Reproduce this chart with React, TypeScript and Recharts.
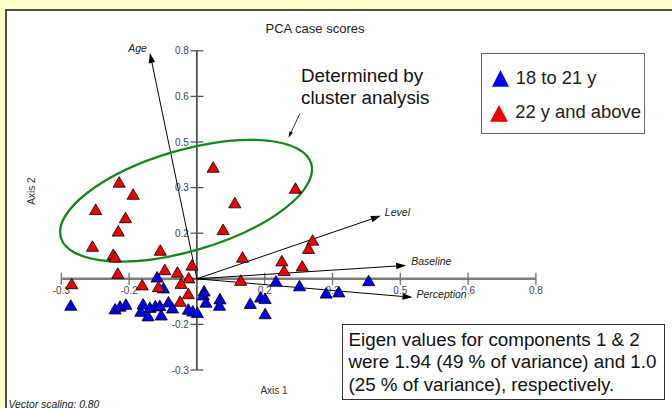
import React from 'react';
import { ScatterChart, Scatter, XAxis, YAxis, ZAxis, ReferenceLine, ReferenceDot } from 'recharts';

// case scores on axis 1 / axis 2
const youngerScores: [number, number][] = [
  [-0.279, -0.092], [-0.181, -0.104], [-0.170, -0.095], [-0.157, -0.089], [-0.124, -0.112],
  [-0.119, -0.088], [-0.108, -0.127], [-0.104, -0.099], [-0.092, -0.094], [-0.082, -0.093],
  [-0.079, -0.124], [-0.088, 0.001], [-0.074, -0.035], [-0.063, -0.081], [-0.054, -0.101],
  [-0.019, -0.105], [-0.009, -0.111], [0.001, -0.116], [0.016, -0.045], [0.014, -0.058],
  [0.020, -0.082], [0.051, -0.071], [0.050, -0.092], [0.118, -0.086], [0.141, -0.065],
  [0.151, -0.070], [0.151, -0.120], [0.175, -0.013], [0.227, -0.028], [0.286, -0.052],
  [0.314, -0.048], [0.380, -0.011],
];

const olderScores: [number, number][] = [
  [0.036, 0.362], [0.218, 0.293], [-0.172, 0.313], [-0.141, 0.273], [0.084, 0.245],
  [-0.224, 0.223], [-0.158, 0.196], [-0.174, 0.152], [0.058, 0.157], [0.256, 0.122],
  [0.247, 0.095], [-0.231, 0.102], [-0.185, 0.075], [-0.181, 0.067], [-0.081, 0.089],
  [0.101, 0.066], [0.188, 0.054], [0.233, 0.037], [0.193, 0.022], [-0.011, 0.040],
  [-0.071, 0.025], [-0.043, 0.017], [-0.175, 0.013], [-0.018, -0.002], [0.097, -0.010],
  [-0.277, -0.021], [-0.121, -0.025], [-0.085, -0.031], [-0.035, -0.020], [-0.019, -0.054],
  [-0.037, -0.079],
];

const vectorNames = ['Age', 'Level', 'Baseline', 'Perception'];
const vectorTips: [number, number][] = [[-0.104, 0.743], [0.407, 0.207], [0.463, 0.044], [0.477, -0.061]];

const axisTicks = [-0.3, -0.15, 0, 0.15, 0.3, 0.45, 0.6, 0.75];
const xTickLabels = ['-0.3', '-0.2', '', '0.2', '0.3', '0.5', '0.6', '0.8'];
const yTickLabels = ['-0.3', '-0.2', '', '0.2', '0.3', '0.5', '0.6', '0.8'];

const clusterCenter = { x: -0.024, y: 0.257 };
const calloutFrom = { x: 0.228, y: 0.544 };
const calloutTo = { x: 0.203, y: 0.465 };

const FONT = '"Liberation Sans", Arial, Helvetica, sans-serif';

const toPoints = (rows: [number, number][]) => rows.map(([x, y]) => ({ x, y }));

// label placement next to each arrow tip (px)
const vectorLabelStyle: Record<string, { dx: number; dy: number; anchor: string; bg?: boolean }> = {
  Age: { dx: -3, dy: -1, anchor: 'end' },
  Level: { dx: 4, dy: 0, anchor: 'start' },
  Baseline: { dx: 5, dy: 0, anchor: 'start' },
  Perception: { dx: 4, dy: 0.5, anchor: 'start', bg: true },
};

function arrowShape(name: string, head = 10, halfW = 3.3, width = 1) {
  return (p: any) => {
    const { x1, y1, x2, y2 } = p;
    const ang = Math.atan2(y2 - y1, x2 - x1);
    const bx = x2 - head * Math.cos(ang);
    const by = y2 - head * Math.sin(ang);
    const nx = -Math.sin(ang) * halfW;
    const ny = Math.cos(ang) * halfW;
    const ls = vectorLabelStyle[name];
    return (
      <g>
        <line x1={x1} y1={y1} x2={bx} y2={by} stroke="#000" strokeWidth={width} />
        <polygon points={`${x2},${y2} ${bx + nx},${by + ny} ${bx - nx},${by - ny}`} fill="#000" />
        {ls && ls.bg && <rect x={x2 + ls.dx - 1} y={y2 - 7} width={52} height={10} fill="#fff" />}
        {ls && (
          <text x={x2 + ls.dx} y={y2 + ls.dy} textAnchor={ls.anchor as any} fontSize={10.5}
            fontStyle="italic" fontFamily={FONT} fill="#222">{name}</text>
        )}
      </g>
    );
  };
}

const xTickShape = (label: string) => (p: any) => {
  const mid = (p.y1 + p.y2) / 2;
  return (
    <g>
      <line x1={p.x1} y1={p.y1} x2={p.x2} y2={p.y2} stroke="#6e6e6e" strokeWidth={1.3} />
      <text x={p.x1} y={mid + 15.5} textAnchor="middle" fontSize={10} fontFamily={FONT} fill="#444">{label}</text>
    </g>
  );
};

const yTickShape = (label: string) => (p: any) => {
  const left = Math.min(p.x1, p.x2);
  return (
    <g>
      <line x1={p.x1} y1={p.y1} x2={p.x2} y2={p.y2} stroke="#555" strokeWidth={1.3} />
      <text x={left - 1.5} y={p.y1 + 3.5} textAnchor="end" fontSize={10} fontFamily={FONT} fill="#444">{label}</text>
    </g>
  );
};

const clusterEllipse = (p: any) => (
  <ellipse cx={p.cx} cy={p.cy} rx={130.5} ry={50.3} fill="none" stroke="#14861a" strokeWidth={2.3}
    transform={`rotate(-16.5 ${p.cx} ${p.cy})`} />
);

const tri = (color: string, w: number, h: number) => (
  <svg width={w} height={h} style={{ display: 'block' }}>
    <polygon points={`${w / 2},0 ${w},${h} 0,${h}`} fill={color} />
  </svg>
);

export default function App() {
  const younger = toPoints(youngerScores);
  const older = toPoints(olderScores);

  return (
    <div style={{ position: 'absolute', left: 0, top: 0, width: 672, height: 408, overflow: 'hidden',
      background: '#ffffcc', fontFamily: FONT }}>
      <div style={{ position: 'absolute', left: 5, top: 9, width: 720, height: 440,
        border: '2px solid #4f4f44', background: '#fff' }} />

      <div style={{ position: 'absolute', left: 215, top: 22, width: 200, textAlign: 'center',
        fontSize: 13, lineHeight: 1, color: '#222' }}>PCA case scores</div>

      <div style={{ position: 'absolute', left: 0, top: 0 }}>
        <ScatterChart width={672} height={408} margin={{ top: 50.8, right: 136.1, bottom: 38, left: 61.3 }}>
          <XAxis type="number" dataKey="x" domain={[-0.3, 0.75]} allowDataOverflow hide />
          <YAxis type="number" dataKey="y" domain={[-0.3, 0.75]} allowDataOverflow hide />
          <ZAxis type="number" range={[40, 40]} />

          <ReferenceDot x={clusterCenter.x} y={clusterCenter.y} shape={clusterEllipse} />

          <ReferenceLine segment={[{ x: -0.3, y: 0 }, { x: 0.75, y: 0 }]} stroke="#7d7d7d" strokeWidth={2.4} />
          <ReferenceLine segment={[{ x: 0, y: -0.3 }, { x: 0, y: 0.75 }]} stroke="#111" strokeWidth={1.3} />

          {axisTicks.map((t, i) => (
            <ReferenceLine key={`xt${i}`} segment={[{ x: t, y: -0.0197 }, { x: t, y: 0.0197 }]}
              shape={xTickShape(xTickLabels[i])} />
          ))}
          {axisTicks.map((t, i) => (
            <ReferenceLine key={`yt${i}`} segment={[{ x: -0.0144, y: t }, { x: 0.0144, y: t }]}
              shape={yTickShape(yTickLabels[i])} />
          ))}

          {vectorNames.map((name, i) => (
            <ReferenceLine key={name} segment={[{ x: 0, y: 0 }, { x: vectorTips[i][0], y: vectorTips[i][1] }]}
              shape={arrowShape(name)} />
          ))}

          <ReferenceLine segment={[calloutFrom, calloutTo]} shape={arrowShape('', 6, 2, 0.8)} />

          <Scatter name="18 to 21 y" data={younger} shape="triangle" fill="#0000f5" stroke="#000"
            strokeWidth={0.8} isAnimationActive={false} />
          <Scatter name="22 y and above" data={older} shape="triangle" fill="#f00000" stroke="#000"
            strokeWidth={0.8} isAnimationActive={false} />
        </ScatterChart>
      </div>

      <div style={{ position: 'absolute', left: 301, top: 64.5, fontSize: 18.8, lineHeight: '22px',
        color: '#111', whiteSpace: 'nowrap' }}>
        Determined by<br />cluster analysis
      </div>

      <div style={{ position: 'absolute', left: 480.5, top: 53, width: 164, height: 81, boxSizing: 'border-box',
        border: '1.5px solid #666', background: '#fff' }} />
      <div style={{ position: 'absolute', left: 492.3, top: 70 }}>{tri('#0000ff', 17, 16.7)}</div>
      <div style={{ position: 'absolute', left: 490.2, top: 105 }}>{tri('#f00000', 18, 16.7)}</div>
      <div style={{ position: 'absolute', left: 515.8, top: 69.4, fontSize: 18.4, lineHeight: 1,
        color: '#222', whiteSpace: 'nowrap' }}>18 to 21 y</div>
      <div style={{ position: 'absolute', left: 515.2, top: 103.4, fontSize: 18.4, lineHeight: 1,
        color: '#222', whiteSpace: 'nowrap' }}>22 y and above</div>

      <div style={{ position: 'absolute', left: 342, top: 324, width: 322.5, height: 75.5, boxSizing: 'border-box',
        border: '1.5px solid #333', background: '#fff', padding: '3.5px 0 0 5.5px', fontSize: 18.8,
        lineHeight: '22.5px', color: '#111', whiteSpace: 'nowrap' }}>
        Eigen values for components 1 &amp; 2<br />
        were 1.94 (49 % of variance) and 1.0<br />
        (25 % of variance), respectively.
      </div>

      <div style={{ position: 'absolute', left: 224, top: 386, width: 100, textAlign: 'center', fontSize: 10,
        lineHeight: 1, color: '#333' }}>Axis 1</div>
      <div style={{ position: 'absolute', left: 2, top: 185.7, width: 60, textAlign: 'center', fontSize: 10,
        lineHeight: '10px', color: '#333', transform: 'rotate(-90deg)' }}>Axis 2</div>
      <div style={{ position: 'absolute', left: 8.5, top: 400.2, fontSize: 10.4, lineHeight: 1, fontStyle: 'italic',
        color: '#222', whiteSpace: 'nowrap' }}>Vector scaling: 0.80</div>
    </div>
  );
}
